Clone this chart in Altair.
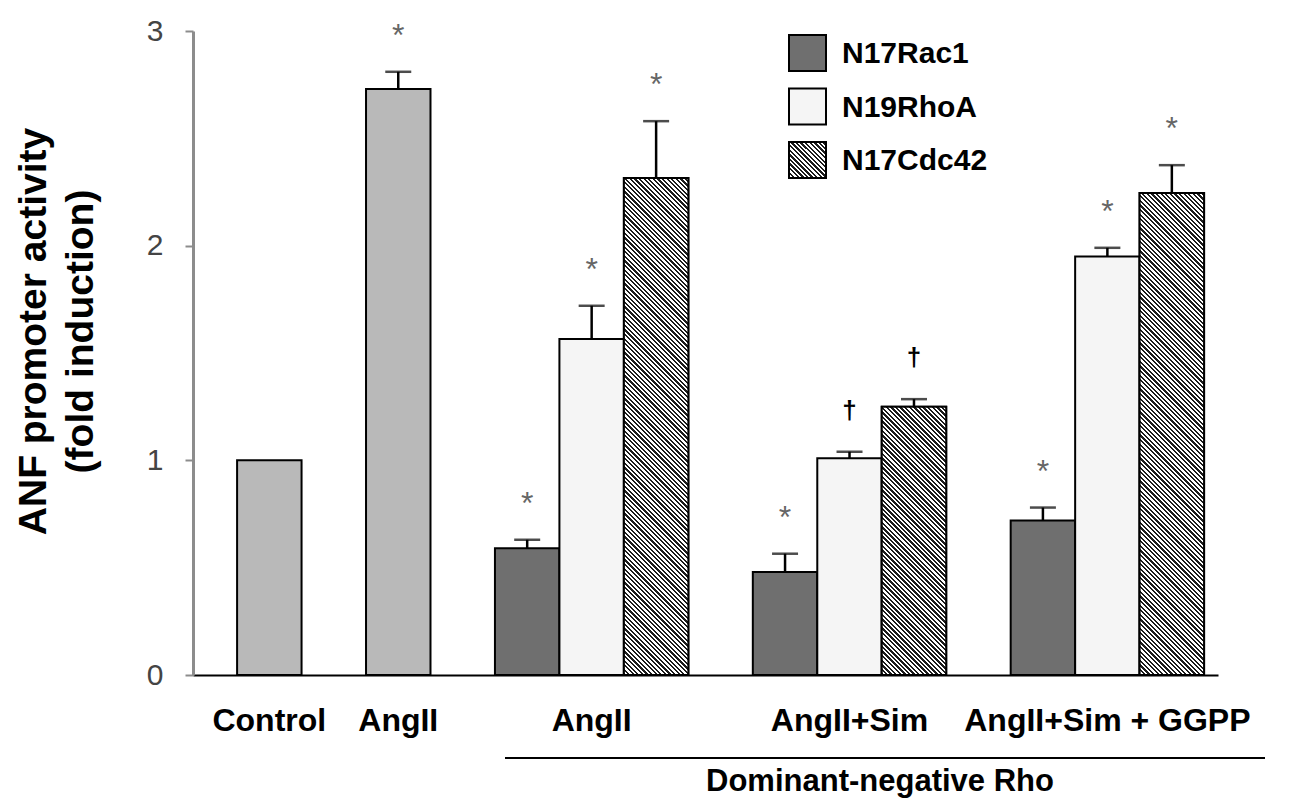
import altair as alt
import pandas as pd

# ---------------- data ----------------
single_labels = ["Control", "AngII"]
single_values = [1.00, 2.73]
single_errors = [0.0, 0.08]
single_marks = ["", "*"]

group_labels = ["AngII", "AngII+Sim", "AngII+Sim + GGPP"]
series_names = ["N17Rac1", "N19RhoA", "N17Cdc42"]

rac1_values = [0.59, 0.48, 0.72]
rac1_errors = [0.04, 0.085, 0.06]
rac1_marks = ["*", "*", "*"]

rhoa_values = [1.565, 1.01, 1.95]
rhoa_errors = [0.155, 0.03, 0.04]
rhoa_marks = ["*", "\u2020", "*"]

cdc42_values = [2.315, 1.25, 2.245]
cdc42_errors = [0.265, 0.035, 0.13]
cdc42_marks = ["*", "\u2020", "*"]

y_ticks = [0, 1, 2, 3]
y_title = ["ANF promoter activity", "(fold induction)"]
bracket_label = "Dominant-negative Rho"

# ---------------- table ----------------
rows = []
for lab, v, e, m in zip(single_labels, single_values, single_errors, single_marks):
    rows.append(dict(slot=lab, value=v, err=e, kind="single", marker=m))
series_data = {
    "N17Rac1": (rac1_values, rac1_errors, rac1_marks),
    "N19RhoA": (rhoa_values, rhoa_errors, rhoa_marks),
    "N17Cdc42": (cdc42_values, cdc42_errors, cdc42_marks),
}
for gi, g in enumerate(group_labels):
    for s in series_names:
        vals, errs, mks = series_data[s]
        rows.append(dict(slot=f"{g}|{s}", value=vals[gi], err=errs[gi], kind=s, marker=mks[gi]))
df = pd.DataFrame(rows)
df["top"] = df["value"] + df["err"]

slot_order = ["Control", "gap1", "AngII", "gap2"]
for gi, g in enumerate(group_labels):
    slot_order += [f"{g}|{s}" for s in series_names]
    if gi < len(group_labels) - 1:
        slot_order.append(f"gap{gi + 3}")

label_map = {"Control": "Control", "AngII": "AngII"}
for g in group_labels:
    label_map[f"{g}|{series_names[1]}"] = g
label_expr = " : ".join(f"datum.value === '{k}' ? '{v}'" for k, v in label_map.items()) + " : ''"

# ---------------- layout / style ----------------
W, H = 1025, 644
FONT = "Liberation Sans"
PX_PER_UNIT = H / 3.0
STEP = W / (len(slot_order) + 0.9)


def hatch(w, h, period=4.6, duty=0.5, dark="#1c1c1c", light="#ffffff"):
    L = w + h
    a = L / (w * w + h * h)
    stops = [alt.GradientStop(offset=0, color=light)]
    last = 0.0
    k = 0
    while k * period < L:
        s = round(max(k * period / L, last), 6)
        e = round(min((k * period + period * duty) / L, 1.0), 6)
        stops += [
            alt.GradientStop(offset=s, color=light),
            alt.GradientStop(offset=s, color=dark),
            alt.GradientStop(offset=e, color=dark),
            alt.GradientStop(offset=e, color=light),
        ]
        last = e
        k += 1
    stops.append(alt.GradientStop(offset=1, color=light))
    return alt.LinearGradient(gradient="linear", stops=stops,
                              x1=0, y1=1, x2=a * w, y2=1 - a * h)


x_scale = alt.Scale(domain=slot_order, paddingInner=0, paddingOuter=0.45, align=0.76)
y_scale = alt.Scale(domain=[0, 3], nice=False)

x_enc = alt.X(
    "slot:N", scale=x_scale,
    axis=alt.Axis(title=None, labelExpr=label_expr, ticks=False, tickSize=0,
                  domainColor="black", domainWidth=2, labelFont=FONT,
                  labelFontSize=32, labelFontWeight="bold", labelColor="black",
                  labelPadding=30, labelLimit=600, labelAngle=0),
)
y_axis = alt.Axis(values=y_ticks, format="d", title=y_title, grid=False, domainColor="#8c8c8c",
                  domainWidth=3, tickColor="#8c8c8c", tickWidth=2, tickSize=8,
                  labelFont=FONT, labelFontSize=30, labelColor="#444444",
                  labelPadding=22, titleFont=FONT, titleFontSize=39,
                  titleFontWeight="bold", titleColor="black", titlePadding=46,
                  titleLineHeight=47, titleY=300, titleAlign="center")

base = alt.Chart(df)

bars = base.mark_bar(stroke="black", strokeWidth=2).encode(
    x=x_enc,
    y=alt.Y("value:Q", scale=y_scale, axis=y_axis),
    fill=alt.Fill("kind:N", scale=alt.Scale(domain=["single"] + series_names,
                                            range=["#b9b9b9", "#6f6f6f", "#f5f5f5", "#555555"]),
                  legend=None),
)

layers = [bars]

# hatched bars for N17Cdc42
for gi, g in enumerate(group_labels):
    slot = f"{g}|{series_names[2]}"
    h = cdc42_values[gi] * PX_PER_UNIT
    layers.append(
        base.transform_filter(alt.FieldEqualPredicate(field="slot", equal=slot))
        .mark_bar(fill=hatch(STEP, h), stroke="black", strokeWidth=2)
        .encode(x=alt.X("slot:N", scale=x_scale), y=alt.Y("value:Q", scale=y_scale))
    )

err_base = base.transform_filter("datum.err > 0")
layers.append(err_base.mark_rule(color="black", strokeWidth=2.5).encode(
    x=alt.X("slot:N", scale=x_scale), y=alt.Y("value:Q", scale=y_scale), y2="top:Q"))
layers.append(err_base.mark_tick(color="black", thickness=2.5, size=26).encode(
    x=alt.X("slot:N", scale=x_scale), y=alt.Y("top:Q", scale=y_scale)))

layers.append(
    base.transform_filter(alt.FieldEqualPredicate(field="marker", equal="*"))
    .mark_text(font=FONT, fontSize=32, color="#666666", baseline="alphabetic", dy=-26)
    .encode(x=alt.X("slot:N", scale=x_scale), y=alt.Y("top:Q", scale=y_scale), text="marker:N")
)
layers.append(
    base.transform_filter(alt.FieldEqualPredicate(field="marker", equal="\u2020"))
    .mark_text(font=FONT, fontSize=26, fontWeight="bold", color="black",
               baseline="alphabetic", dy=-33)
    .encode(x=alt.X("slot:N", scale=x_scale), y=alt.Y("top:Q", scale=y_scale), text="marker:N")
)

# legend (drawn by hand because of the patterns)
swatch_fills = ["#6f6f6f", "#f5f5f5", hatch(37, 36)]
for i, s in enumerate(series_names):
    y0 = 4 + i * 53.5
    ldf = pd.DataFrame({"series": [s]})
    layers.append(alt.Chart(ldf).mark_rect(fill=swatch_fills[i], stroke="black", strokeWidth=2).encode(
        x=alt.value(596), x2=alt.value(633), y=alt.value(y0), y2=alt.value(y0 + 36)))
    layers.append(alt.Chart(ldf).mark_text(font=FONT, fontSize=30, fontWeight="bold",
                                           align="left", baseline="middle", color="black").encode(
        x=alt.value(649), y=alt.value(y0 + 19), text="series:N"))

# bracket annotation
bdf = pd.DataFrame({"label": [bracket_label]})
layers.append(alt.Chart(bdf).mark_rule(color="black", strokeWidth=2).encode(
    x=alt.value(312), x2=alt.value(1072), y=alt.value(727)))
layers.append(alt.Chart(bdf).mark_text(font=FONT, fontSize=31, fontWeight="bold",
                                       baseline="middle", color="black").encode(
    x=alt.value(687), y=alt.value(751), text="label:N"))

chart = alt.layer(*layers).properties(
    width=W, height=H,
    padding={"left": 185, "top": 23, "right": 60, "bottom": 127},
    autosize=alt.AutoSizeParams(type="none"),
    background="white",
).configure_view(stroke=None)

chart.save("out.html", embed_options={"renderer": "svg", "actions": False})
